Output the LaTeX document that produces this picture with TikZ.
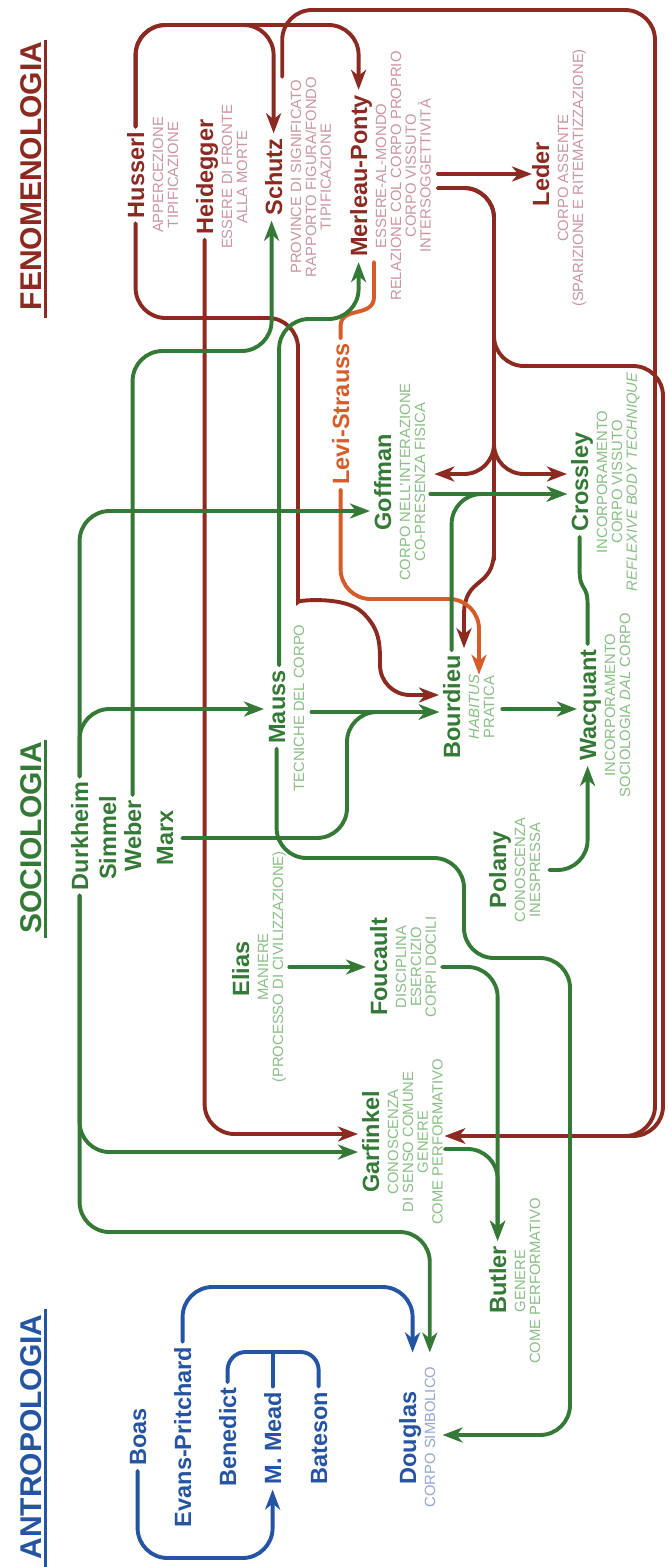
\documentclass[tikz,border=0pt]{standalone}
\usepackage{fontspec}
\setmainfont{Liberation Sans}
\usetikzlibrary{arrows.meta}
\definecolor{fenred}{RGB}{140,42,34}
\definecolor{fenpink}{RGB}{201,150,160}
\definecolor{socgreen}{RGB}{52,122,54}
\definecolor{soclight}{RGB}{138,190,134}
\definecolor{antblue}{RGB}{36,84,162}
\definecolor{antlight}{RGB}{150,166,206}
\definecolor{lsorange}{RGB}{214,92,42}
% strut that fixes the height of the first line of a gloss
\newcommand\lnstrut{\rule{0pt}{11pt}}
\begin{document}
\begin{tikzpicture}[x=1pt,y=-1pt,
  who/.style={rotate=90, anchor=base, inner xsep=5pt, inner ysep=0pt,
    text height=16.8pt, text depth=0pt, font=\bfseries\fontsize{23.5}{24}\selectfont},
  gloss/.style={rotate=90, anchor=north, inner sep=0pt, align=center,
    font=\fontsize{14.8}{14.8}\selectfont},
  heading/.style={rotate=90, anchor=base, inner sep=0pt,
    font=\bfseries\fontsize{30}{30}\selectfont},
  wire/.style={line width=3.9pt, rounded corners=30pt, line cap=round},
  arrowed/.style={-{Stealth[length=20pt,width=15pt,inset=6pt]}},
  fenw/.style={wire, draw=fenred},
  socw/.style={wire, draw=socgreen},
  antw/.style={wire, draw=antblue},
  lsw/.style={wire, draw=lsorange},
]
\fill[white] (0,0) rectangle (667,1567);
\useasboundingbox (0,0) rectangle (667,1567);

% ---------- headings ----------
\node[heading, text=fenred] (h-fen) at (41,176) {FENOMENOLOGIA};
\node[heading, text=socgreen] (h-soc) at (41,838) {SOCIOLOGIA};
\node[heading, text=antblue] (h-ant) at (41,1437) {ANTROPOLOGIA};
\draw[fenred, line width=3.5pt] (45.5,40) -- (45.5,318);
\draw[socgreen, line width=3.5pt] (45.5,740) -- (45.5,938);
\draw[antblue, line width=3.5pt] (45.5,1309) -- (45.5,1567);

% ---------- fenomenologia ----------
\node[who, text=fenred] (husserl) at (144,175) {Husserl};
\node[gloss, text=fenpink] (husserl-d) at (152,175) {\lnstrut APPERCEZIONE\\TIPIFICAZIONE};
\node[who, text=fenred] (heidegger) at (213,177) {Heidegger};
\node[gloss, text=fenpink] (heidegger-d) at (221,177) {\lnstrut ESSERE DI FRONTE\\ALLA MORTE};
\node[who, text=fenred] (schutz) at (282,177) {Schutz};
\node[gloss, text=fenpink] (schutz-d) at (290,177) {\lnstrut PROVINCE DI SIGNIFICATO\\RAPPORTO FIGURA/FONDO\\TIPIFICAZIONE};
\node[who, text=fenred] (merleau) at (367,176) {Merleau-Ponty};
\node[gloss, text=fenpink] (merleau-d) at (375,176) {\lnstrut ESSERE-AL-MONDO\\RELAZIONE COL CORPO PROPRIO\\CORPO VISSUTO\\INTERSOGGETTIVITÀ};
\node[who, text=fenred] (leder) at (549,174) {Leder};
\node[gloss, text=fenpink] (leder-d) at (557,178) {\lnstrut CORPO ASSENTE\\(SPARIZIONE E RITEMATIZZAZIONE)};

\node[who, text=lsorange] (levistrauss) at (349,414) {Levi-Strauss};

% ---------- sociologia ----------
\node[who, text=socgreen] (durkheim) at (88,836) {Durkheim};
\node[who, text=socgreen] (simmel) at (116,838) {Simmel};
\node[who, text=socgreen] (weber) at (141,836) {Weber};
\node[who, text=socgreen] (marx) at (173,838) {Marx};
\node[who, text=socgreen] (goffman) at (391,482) {Goffman};
\node[gloss, text=soclight] (goffman-d) at (399,482) {\lnstrut CORPO NELL’INTERAZIONE\\CO-PRESENZA FISICA};
\node[who, text=socgreen] (crossley) at (588,482) {Crossley};
\node[gloss, text=soclight] (crossley-d) at (596,482) {\lnstrut INCORPORAMENTO\\CORPO VISSUTO\\\textit{REFLEXIVE BODY TECHNIQUE}};
\node[who, text=socgreen] (mauss) at (285,707) {Mauss};
\node[gloss, text=soclight] (mauss-d) at (293,708) {\lnstrut TECNICHE DEL CORPO};
\node[who, text=socgreen] (bourdieu) at (460,707) {Bourdieu};
\node[gloss, text=soclight] (bourdieu-d) at (468,707) {\lnstrut\textit{HABITUS}\\PRATICA};
\node[who, text=socgreen] (wacquant) at (596,705) {Wacquant};
\node[gloss, text=soclight] (wacquant-d) at (604,705) {\lnstrut INCORPORAMENTO\\SOCIOLOGIA \textit{DAL} CORPO};
\node[who, text=socgreen] (polany) at (506,870) {Polany};
\node[gloss, text=soclight] (polany-d) at (514,870) {\lnstrut CONOSCENZA\\INESPRESSA};
\node[who, text=socgreen] (elias) at (249,969) {Elias};
\node[gloss, text=soclight] (elias-d) at (257,967) {\lnstrut MANIERE\\(PROCESSO DI CIVILIZZAZIONE)};
\node[who, text=socgreen] (foucault) at (387,967) {Foucault};
\node[gloss, text=soclight] (foucault-d) at (395,967) {\lnstrut DISCIPLINA\\ESERCIZIO\\CORPI DOCILI};
\node[who, text=socgreen] (garfinkel) at (379,1142) {Garfinkel};
\node[gloss, text=soclight] (garfinkel-d) at (387,1142) {\lnstrut CONOSCENZA\\DI SENSO COMUNE\\GENERE\\COME PERFORMATIVO};
\node[who, text=socgreen] (butler) at (506,1280) {Butler};
\node[gloss, text=soclight] (butler-d) at (514,1281) {\lnstrut GENERE\\COME PERFORMATIVO};

% ---------- antropologia ----------
\node[who, text=antblue] (boas) at (146,1437) {Boas};
\node[who, text=antblue] (evans) at (191,1437) {Evans-Pritchard};
\node[who, text=antblue] (benedict) at (236,1437) {Benedict};
\node[who, text=antblue] (mead) at (281,1438) {M. Mead};
\node[who, text=antblue] (bateson) at (327,1438) {Bateson};
\node[who, text=antblue] (douglas) at (416,1438) {Douglas};
\node[gloss, text=antlight] (douglas-d) at (424,1437) {\lnstrut CORPO SIMBOLICO};

% ---------- attachment points ----------
\coordinate (mp-r) at ([xshift=7pt]merleau-d.south);
\coordinate (gar-r) at ([xshift=2pt]garfinkel-d.south);
\coordinate (gar-l) at ([xshift=-4pt]garfinkel.north);
\coordinate (bou-l) at ([xshift=-4pt]bourdieu.north);
\coordinate (bou-r) at ([xshift=8pt]bourdieu-d.south);
\coordinate (bou-top) at ([yshift=2pt]bourdieu.east);
\coordinate (gof-l) at ([xshift=-4pt]goffman.north);
\coordinate (gof-r) at ([xshift=9pt]goffman-d.south);
\coordinate (gof-r2) at ([xshift=5pt]goffman-d.south);
\coordinate (cro-l) at ([xshift=-4pt]crossley.north);
\coordinate (mau-l) at ([xshift=-4pt]mauss.north);
\coordinate (mau-r) at ([xshift=7pt]mauss-d.south);
\coordinate (mau-t) at ([xshift=2.5pt]mauss.east);
\coordinate (sch-b) at ([xshift=-2pt]schutz.west);
\coordinate (marx-r) at ([xshift=9pt]marx.south);
\coordinate (wac-l) at ([xshift=-2pt]wacquant.north);
\coordinate (pol-r) at ([xshift=9pt]polany-d.south);
\coordinate (eli-r) at ([xshift=3pt]elias-d.south);
\coordinate (fou-l) at ([xshift=-4pt]foucault.north);
\coordinate (fou-r) at ([xshift=6pt]foucault-d.south);
\coordinate (dou-top) at ([yshift=14pt]douglas-d.east);
\coordinate (dou-n) at ([xshift=5pt]douglas.east);
\coordinate (dou-r) at ([xshift=7pt]douglas-d.south);
\coordinate (mp-split) at (494,440);

% ---------- fenomenologia links ----------
\draw[fenw, arrowed] (husserl.east) -- (husserl.east |- 0,25) -- (schutz.east |- 0,25) -- (schutz.east);
\draw[fenw, arrowed] (husserl.east) -- (husserl.east |- 0,25) -- (merleau.east |- 0,25) -- (merleau.east);
\draw[fenw, arrowed] (schutz-d.east -| schutz.south) -- (schutz.south |- 0,10) -- (655,10) -- (655,1136) -- (gar-r |- 0,1136);
\draw[fenw, arrowed] (mp-r |- leder.north) -- (leder.north);
\draw[fenw, arrowed] (mp-r |- 0,188) -- (494,188) -- (494,366) -- (663,366) -- (663,1136) -- (gar-r |- 0,1136);
\draw[fenw] (mp-r |- 0,188) -- (494,188) -- (494,560);
\draw[fenw, sharp corners, arrowed] (494,550) .. controls (494,590) and (464,575) .. (464,615) -- (bou-top -| 464,0);
\draw[fenw, arrowed] (mp-split) |- (gof-r |- 0,474);
\draw[fenw, arrowed] (mp-split) |- (cro-l |- 0,474);
\draw[fenw, arrowed] (heidegger.west) -- (heidegger.west |- 0,1134) -- (gar-l |- 0,1134);
\draw[fenw, arrowed] (husserl.west) -- (husserl.west |- 0,318) -- (298,318) -- (298,572)
  [sharp corners] .. controls (298,600) and (345,596) .. (362,612) .. controls (378,627) and (380,640) .. (380,660)
  [rounded corners=30pt] -- (380,695) -- (bou-l |- 0,695);

% ---------- levi-strauss links ----------
\draw[lsw, sharp corners] (levistrauss.east) -- (levistrauss.east |- 0,326) .. controls (340.6,306) and (374,318) .. (374,297) -- (merleau.west -| 374,0);
\draw[lsw, arrowed] (levistrauss.west) -- (levistrauss.west |- 0,599) -- (479,599) -- (bourdieu-d.east -| 479,0);

% ---------- sociologia links ----------
\draw[socw, arrowed] (durkheim.east) -- (durkheim.east |- 0,709) -- (mau-l |- 0,709);
\draw[socw, arrowed] (durkheim.east) -- (durkheim.east |- 0,511) -- (gof-l |- 0,511);
\draw[socw, arrowed] (durkheim.west) -- (durkheim.west |- 0,1152) -- (gar-l |- 0,1152);
\draw[socw, arrowed] (durkheim.west) -- (durkheim.west |- 0,1232) -- (dou-top |- 0,1232) -- (dou-top);
\draw[socw, arrowed] (weber.east) -- (weber.east |- 0,351) -- (sch-b |- 0,351) -- (sch-b);
\draw[socw, arrowed] (marx-r) -- (marx-r -| 347,0) -- (347,712) -- (bou-l |- 0,712);
\draw[socw, arrowed] (mau-r |- 0,712) -- (bou-l |- 0,712);
\draw[socw, arrowed] (mau-t) -- (mau-t |- 0,319) -- (merleau.west |- 0,319) -- (merleau.west);
\draw[socw, arrowed] (mauss.west) -- (mauss.west |- 0,858) -- (464,858) -- (464,958) -- (570,958) -- (570,1435) -- (dou-r |- 0,1435);
\draw[socw, arrowed] (gof-r2 |- 0,494) -- (cro-l |- 0,494);
\draw[socw, arrowed] (bourdieu.east) -- (bourdieu.east |- 0,494) -- (cro-l |- 0,494);
\draw[socw, arrowed] (bou-r |- 0,709) -- (wac-l |- 0,709);
\draw[socw, sharp corners] (crossley.west) -- (crossley.west |- 0,570) .. controls +(0,22) and +(0,-22) .. (wacquant.east |- 0,605) -- (wacquant.east);
\draw[socw, arrowed] (pol-r) -- (pol-r -| wacquant.west) -- (wacquant.west);
\draw[socw, arrowed] (eli-r) -- (fou-l |- eli-r);
\draw[socw, arrowed] (fou-r) -- (fou-r -| butler.east) -- (butler.east);
\draw[socw, arrowed] (gar-r |- 0,1149) -- (butler.east |- 0,1149) -- (butler.east);

% ---------- antropologia links ----------
\draw[antw, arrowed] (boas.west) -- (boas.west |- 0,1558) -- (mead.west |- 0,1558) -- (mead.west);
\draw[antw, arrowed] (evans.east) -- (evans.east |- 0,1287) -- (dou-n |- 0,1287) -- (dou-n |- dou-top);
\draw[antw, rounded corners=18pt] (benedict.east) -- (benedict.east |- 0,1352) -- (bateson.east |- 0,1352) -- (bateson.east);
\draw[antw] (mead.east) -- (mead.east |- 0,1352);
\end{tikzpicture}
\end{document}
